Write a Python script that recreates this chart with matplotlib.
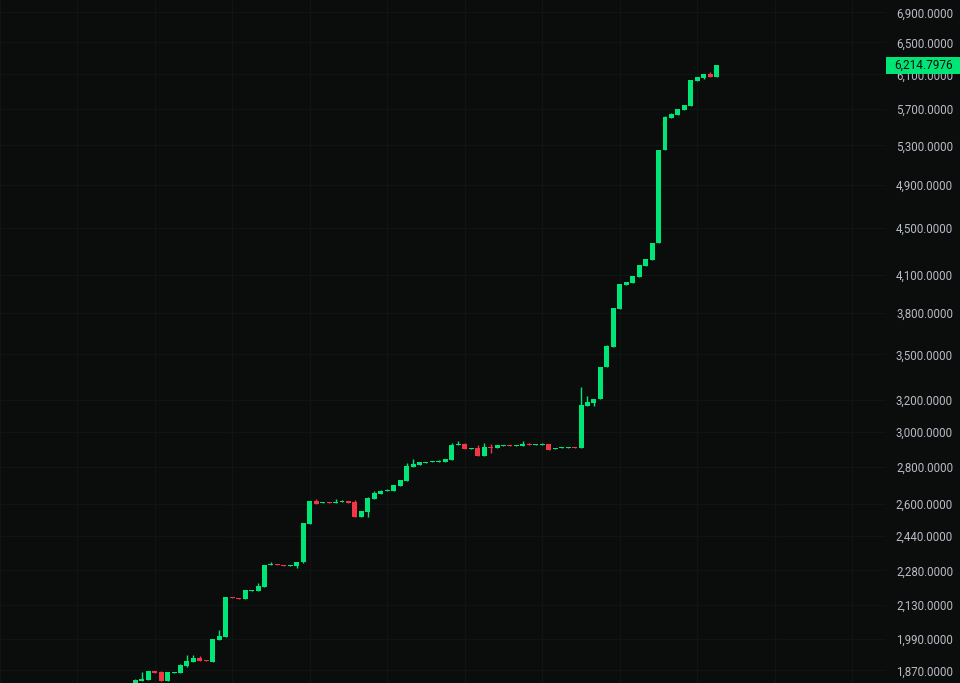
import numpy as np
import matplotlib.pyplot as plt
from matplotlib.patches import Rectangle
import matplotlib.transforms as mtransforms

# candle data, oldest first
opens = [1798.1, 1830.6, 1834.2, 1867.4, 1863.7, 1830.6, 1860.0, 1860.0, 1886.0, 1901.1,
         1916.2, 1908.6, 1901.1, 1985.7, 1997.6, 2162.7, 2158.4, 2154.1, 2188.6, 2188.6,
         2206.0, 2304.4, 2309.0, 2304.4, 2299.8, 2299.8, 2318.2, 2499.8, 2616.6, 2606.3,
         2611.5, 2606.3, 2611.5, 2616.6, 2611.5, 2534.9, 2560.2, 2627.0, 2653.2, 2669.0,
         2669.0, 2695.6, 2722.5, 2799.3, 2810.4, 2821.5, 2827.1, 2827.1, 2827.1, 2838.4,
         2924.2, 2929.9, 2901.1, 2906.8, 2861.0, 2912.6, 2906.8, 2918.4, 2924.2, 2918.4,
         2918.4, 2929.9, 2924.2, 2924.2, 2929.9, 2901.1, 2906.8, 2906.8, 2912.6, 2906.8,
         3159.4, 3178.3, 3203.6, 3413.6, 3551.8, 3829.9, 4016.8, 4032.7, 4081.0, 4171.0,
         4220.9, 4365.7, 5250.5, 5594.6, 5628.0, 5684.0, 5729.4, 6020.7, 6056.6, 6104.9,
         6068.7]
closes = [1834.2, 1837.9, 1867.4, 1860.0, 1830.6, 1863.7, 1863.7, 1889.8, 1904.8, 1916.2,
          1904.8, 1904.8, 1989.7, 2001.6, 2162.7, 2158.4, 2154.1, 2193.0, 2193.0, 2210.4,
          2304.4, 2309.0, 2304.4, 2299.8, 2304.4, 2318.2, 2504.8, 2616.6, 2601.1, 2611.5,
          2606.3, 2611.5, 2616.6, 2606.3, 2534.9, 2565.3, 2632.2, 2658.4, 2669.0, 2674.3,
          2701.0, 2727.9, 2804.8, 2816.0, 2827.1, 2827.1, 2832.7, 2832.7, 2844.0, 2924.2,
          2929.9, 2901.1, 2906.8, 2861.0, 2912.6, 2906.8, 2924.2, 2924.2, 2918.4, 2924.2,
          2929.9, 2924.2, 2929.9, 2929.9, 2895.3, 2906.8, 2912.6, 2912.6, 2906.8, 3165.7,
          3184.6, 3203.6, 3413.6, 3558.9, 3837.5, 4024.7, 4040.7, 4089.1, 4179.2, 4229.3,
          4365.7, 5250.5, 5605.7, 5639.2, 5695.3, 5740.7, 6032.6, 6068.7, 6104.9, 6068.7,
          6214.7976]
highs = [1837.9, 1863.7, 1867.4, 1867.4, 1867.4, 1863.7, 1863.7, 1893.5, 1927.7, 1927.7,
         1923.9, 1908.6, 1989.7, 2025.6, 2162.7, 2162.7, 2158.4, 2193.0, 2193.0, 2223.6,
         2304.4, 2318.2, 2309.0, 2304.4, 2304.4, 2318.2, 2504.8, 2616.6, 2627.0, 2611.5,
         2611.5, 2627.0, 2621.8, 2616.6, 2621.8, 2565.3, 2637.5, 2669.0, 2674.3, 2679.6,
         2701.0, 2727.9, 2821.5, 2844.0, 2827.1, 2827.1, 2832.7, 2838.4, 2844.0, 2935.7,
         2947.4, 2935.7, 2906.8, 2924.2, 2935.7, 2929.9, 2924.2, 2924.2, 2924.2, 2924.2,
         2947.4, 2935.7, 2929.9, 2935.7, 2929.9, 2906.8, 2912.6, 2912.6, 2912.6, 3280.8,
         3222.7, 3203.6, 3413.6, 3565.9, 3837.5, 4024.7, 4040.7, 4089.1, 4179.2, 4229.3,
         4365.7, 5250.5, 5616.8, 5650.3, 5695.3, 5740.7, 6032.6, 6068.7, 6104.9, 6129.2,
         6214.7976]
lows = [1791.0, 1830.6, 1834.2, 1860.0, 1830.6, 1830.6, 1860.0, 1860.0, 1882.3, 1901.1,
        1904.8, 1904.8, 1901.1, 1985.7, 1997.6, 2158.4, 2154.1, 2154.1, 2188.6, 2188.6,
        2206.0, 2304.4, 2304.4, 2299.8, 2299.8, 2290.7, 2313.6, 2499.8, 2601.1, 2606.3,
        2606.3, 2606.3, 2611.5, 2606.3, 2534.9, 2534.9, 2534.9, 2627.0, 2653.2, 2669.0,
        2669.0, 2695.6, 2722.5, 2799.3, 2810.4, 2821.5, 2827.1, 2827.1, 2827.1, 2838.4,
        2924.2, 2901.1, 2901.1, 2861.0, 2861.0, 2878.1, 2906.8, 2918.4, 2918.4, 2918.4,
        2918.4, 2924.2, 2924.2, 2924.2, 2895.3, 2901.1, 2906.8, 2906.8, 2906.8, 2906.8,
        3159.4, 3159.4, 3203.6, 3413.6, 3551.8, 3829.9, 4016.8, 4032.7, 4081.0, 4171.0,
        4220.9, 4365.7, 5250.5, 5594.6, 5628.0, 5684.0, 5729.4, 6020.7, 6044.6, 6068.7,
        6068.7]

price_ticks = [1870, 1990, 2130, 2280, 2440, 2600, 2800, 3000, 3200, 3500,
               3800, 4100, 4500, 4900, 5300, 5700, 6100, 6500, 6900]
last_price = closes[-1]

bg = '#0b0c0c'
grid_col = '#0e1512'
up_col = '#00e676'
down_col = '#f23645'
text_col = '#b8bcc4'

o = np.array(opens)
c = np.array(closes)
h = np.array(highs)
l = np.array(lows)
idx = np.arange(len(o))
up = c >= o
cols = np.where(up, up_col, down_col)

fig = plt.figure(figsize=(9.6, 6.83), dpi=100, facecolor=bg)
ax = fig.add_axes([0, 0, 886 / 960, 1])
ax.set_facecolor(bg)
ax.set_yscale('log')

# vertical time grid every 12 bars
for gx in range(-21, 120, 12):
    ax.axvline(gx, color=grid_col, lw=1, zorder=0)
for p in price_ticks:
    ax.axhline(p, color=grid_col, lw=1, zorder=0)

# wicks and bodies
ax.vlines(idx, l, h, colors=cols, lw=1.0, zorder=2)
top = np.maximum(o, c)
bot = np.minimum(o, c)
top = np.where(top / bot < 1.0022, bot * 1.0022, top)
ax.bar(idx, top - bot, bottom=bot, width=0.77, color=cols, linewidth=0, zorder=3)

ax.set_xlim(-20.94, 116.21)
ax.set_ylim(1823.7, 7070.4)

ax.yaxis.tick_right()
ax.set_yticks(price_ticks)
ax.set_yticklabels([f'{p:,.4f}' for p in price_ticks])
ax.yaxis.set_minor_locator(plt.NullLocator())
ax.tick_params(axis='y', length=0, pad=48.3, labelsize=8.3, labelcolor=text_col)
for lab in ax.get_yticklabels():
    lab.set_horizontalalignment('right')
    lab.set_fontfamily('Roboto')
ax.set_xticks([])
for s in ax.spines.values():
    s.set_visible(False)

# last price marker on the price scale
trans = mtransforms.blended_transform_factory(ax.transAxes, ax.transData)
f = np.exp(8.5 / 504)
ax.add_patch(Rectangle((1.0, last_price / f), 74 / 886, last_price * f - last_price / f,
                       transform=trans, facecolor=up_col, edgecolor='none',
                       clip_on=False, zorder=5))
ax.text(953 / 886, last_price, f'{last_price:,.4f}', transform=trans, ha='right',
        va='center', fontsize=8.5, family='Roboto', color='#0b0c0c', zorder=6,
        clip_on=False)

fig.savefig('out.png', dpi=100, facecolor=bg)
